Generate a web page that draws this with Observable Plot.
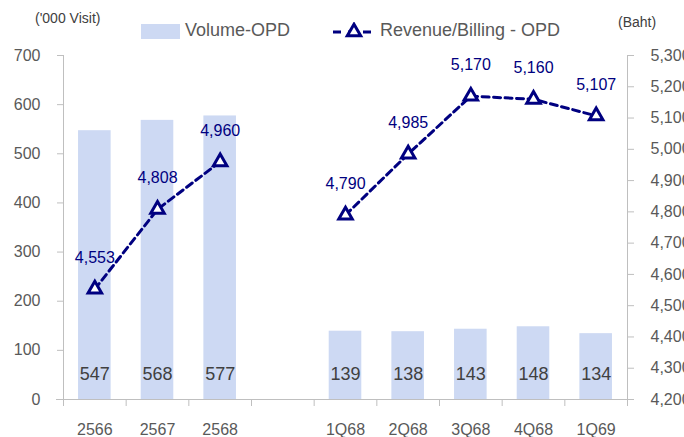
<!DOCTYPE html>
<html>
<head>
<meta charset="utf-8">
<script src="https://cdn.jsdelivr.net/npm/d3@7"></script>
<script src="https://cdn.jsdelivr.net/npm/@observablehq/plot@0.6"></script>
<style>
  body { margin: 0; background: white; font-family: "Liberation Sans", Arial, sans-serif; }
  #wrap { position: relative; width: 684px; height: 437px; overflow: hidden; }
  .lbl { position: absolute; white-space: nowrap; line-height: 1; }
</style>
</head>
<body>
<div id="wrap"></div>
<script>
// ---- data ----
const categories = ["2566", "2567", "2568", "", "1Q68", "2Q68", "3Q68", "4Q68", "1Q69"];
const volumeOPD = [547, 568, 577, null, 139, 138, 143, 148, 134];
const revenueOPD = [4553, 4808, 4960, null, 4790, 4985, 5170, 5160, 5107];
const periodGroup = ["annual", "annual", "annual", null, "quarter", "quarter", "quarter", "quarter", "quarter"];
const leftTicks = [0, 100, 200, 300, 400, 500, 600, 700];
const rightTicks = [4200, 4300, 4400, 4500, 4600, 4700, 4800, 4900, 5000, 5100, 5200, 5300];

// ---- layout ----
const W = 684, H = 437, mL = 63, mR = 57, mT = 55, mB = 38;
const step = (W - mL - mR) / categories.length;
const barColor = "#cdd9f3", navy = "#000080", axisGray = "#bfbfbf", textGray = "#595959";

const rMin = 4200, rMax = 5300, lMax = 700;
const toLeft = v => (v - rMin) * lMax / (rMax - rMin);
const fromLeft = v => v * (rMax - rMin) / lMax + rMin;
const fmt = d3.format(",");

const rows = categories.map((c, i) => ({cat: c, vol: volumeOPD[i], rev: revenueOPD[i], grp: periodGroup[i]}))
  .filter(d => d.vol != null);

const chart = Plot.plot({
  width: W, height: H,
  marginLeft: mL, marginRight: mR, marginTop: mT, marginBottom: mB,
  style: {fontFamily: "'Liberation Sans', Arial, sans-serif", background: "white", overflow: "visible"},
  x: {type: "band", domain: categories, paddingInner: 0.48, paddingOuter: 0.24, round: false},
  y: {domain: [0, lMax]},
  marks: [
    Plot.barY(rows, {x: "cat", y: "vol", fill: barColor}),
    Plot.ruleY([0], {stroke: axisGray, insetLeft: -7, insetRight: -7}),
    Plot.ruleX([categories[0]], {dx: -step / 2, stroke: axisGray, insetBottom: -7}),
    Plot.ruleX([categories[categories.length - 1]], {dx: step / 2, stroke: axisGray, insetBottom: -7}),
    Plot.axisX({tickSize: 7, tickFormat: () => "", dx: -step / 2, stroke: axisGray, label: null}),
    Plot.axisX({tickSize: 0, tickPadding: 24, fontSize: 16, fill: textGray, label: null}),
    Plot.axisY(leftTicks, {anchor: "left", tickSize: 6, tickPadding: 17, fontSize: 16, stroke: axisGray, fill: textGray, label: null}),
    Plot.axisY(rightTicks.map(toLeft), {anchor: "right", tickSize: 6, tickPadding: 17, fontSize: 16, stroke: axisGray, fill: textGray, label: null,
      tickFormat: v => fmt(Math.round(fromLeft(v)))}),
    Plot.line(rows, {x: "cat", y: d => toLeft(d.rev), z: "grp", stroke: navy, strokeWidth: 3, strokeDasharray: "7,4.5"}),
    Plot.dot(rows, {x: "cat", y: d => toLeft(d.rev), symbol: "triangle", r: 5, stroke: navy, strokeWidth: 3, fill: "white"}),
    Plot.text(rows, {x: "cat", y: d => toLeft(d.rev), text: d => fmt(d.rev), dy: -31, fill: navy, fontSize: 16}),
    Plot.text(rows, {x: "cat", y: () => 0, text: d => String(d.vol), dy: -25, fill: "#404040", fontSize: 18})
  ]
});

const wrap = document.getElementById("wrap");
wrap.appendChild(chart);

function addLabel(html, left, top, size, color) {
  const el = document.createElement("div");
  el.className = "lbl";
  el.innerHTML = html;
  el.style.left = left + "px";
  el.style.top = top + "px";
  el.style.fontSize = size + "px";
  el.style.color = color;
  wrap.appendChild(el);
  return el;
}
addLabel("('000 Visit)", 35, 11, 14, "#404040");
addLabel("(Baht)", 618, 15, 14, "#404040");

// legend
const sw = document.createElement("div");
sw.style.cssText = `position:absolute;left:141px;top:24px;width:39px;height:15px;background:${barColor}`;
wrap.appendChild(sw);
addLabel("Volume-OPD", 185, 21, 18, textGray);
const lg = d3.create("svg").attr("width", 46).attr("height", 20)
  .style("position", "absolute").style("left", "332px").style("top", "22px");
lg.append("line").attr("x1", 1).attr("x2", 45).attr("y1", 10).attr("y2", 10)
  .attr("stroke", navy).attr("stroke-width", 3).attr("stroke-dasharray", "8,7");
lg.append("path").attr("d", d3.symbol(d3.symbolTriangle, 78)()).attr("transform", "translate(22,10)")
  .attr("fill", "white").attr("stroke", navy).attr("stroke-width", 3);
wrap.appendChild(lg.node());
addLabel("Revenue/Billing - OPD", 380, 21, 18, textGray);
</script>
</body>
</html>
